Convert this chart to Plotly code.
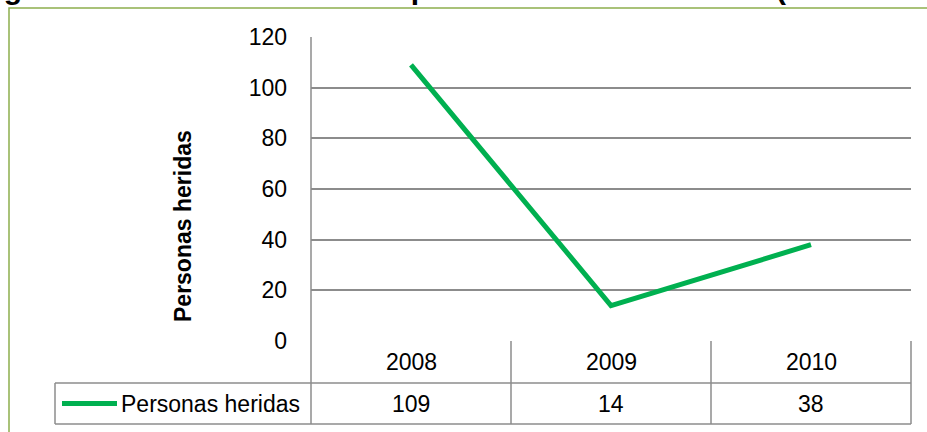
import plotly.graph_objects as go

# Data
years = ["2008", "2009", "2010"]
injured = [109, 14, 38]
series_name = "Personas heridas"
y_ticks = [0, 20, 40, 60, 80, 100, 120]
title_text = "Figura N° 7. Personas heridas por accidente de tránsito (1998 - 2010)"

# Canvas geometry (pixels)
W, H = 927, 432
L, R, T, B = 311, 16, 37, 91
PW, PH = W - L - R, H - T - B


def px_x(x):
    return (x - L) / PW


def px_y(y):
    return (H - B - y) / PH


GREEN = "#00B050"
GRID = "#8C8C8C"
FONT = "Liberation Sans, Arial, sans-serif"
FS = 23

fig = go.Figure()
fig.add_trace(go.Scatter(
    x=years, y=injured, mode="lines", name=series_name,
    line=dict(color=GREEN, width=5), showlegend=False, hoverinfo="x+y",
))

# Data table under the plot
row1 = px_y(383)
row2 = px_y(424)
legend_left = px_x(55)
shapes = []
line_style = dict(color=GRID, width=1.5)
shapes.append(dict(type="line", xref="paper", yref="paper", x0=legend_left, x1=1, y0=row1, y1=row1, line=line_style))
shapes.append(dict(type="line", xref="paper", yref="paper", x0=legend_left, x1=1, y0=row2, y1=row2, line=line_style))
shapes.append(dict(type="line", xref="paper", yref="paper", x0=legend_left, x1=legend_left, y0=row1, y1=row2, line=line_style))
shapes.append(dict(type="line", xref="paper", yref="paper", x0=0, x1=0, y0=1, y1=row2, line=line_style))
for i in range(1, len(years) + 1):
    xv = i / len(years)
    shapes.append(dict(type="line", xref="paper", yref="paper", x0=xv, x1=xv, y0=0, y1=row2, line=line_style))
# legend key line
shapes.append(dict(type="line", xref="paper", yref="paper", x0=px_x(62), x1=px_x(117),
                   y0=px_y(403.5), y1=px_y(403.5), line=dict(color=GREEN, width=5)))
# outer chart border
shapes.append(dict(type="rect", xref="paper", yref="paper", x0=px_x(9), x1=px_x(W + 40),
                   y0=px_y(H + 40), y1=px_y(8), line=dict(color="#8DAF4E", width=1.5),
                   fillcolor="rgba(0,0,0,0)", layer="below"))

annotations = []
for i, (yr, v) in enumerate(zip(years, injured)):
    annotations.append(dict(x=i, xref="x", y=px_y(362), yref="paper", text=yr, showarrow=False,
                            font=dict(size=FS, color="black", family=FONT), xanchor="center", yanchor="middle"))
    annotations.append(dict(x=i, xref="x", y=px_y(403.5), yref="paper", text=str(v), showarrow=False,
                            font=dict(size=FS, color="black", family=FONT), xanchor="center", yanchor="middle"))
annotations.append(dict(x=px_x(119), xref="paper", y=px_y(403.5), yref="paper", text=series_name,
                        showarrow=False, xanchor="left", yanchor="middle",
                        font=dict(size=FS, color="black", family=FONT)))
# y-axis title
annotations.append(dict(x=px_x(183), xref="paper", y=px_y(226), yref="paper", text="<b>Personas heridas</b>",
                        showarrow=False, textangle=-90, xanchor="center", yanchor="middle",
                        font=dict(size=FS, color="black", family=FONT)))
# figure caption running off the top edge
annotations.append(dict(x=px_x(-25), xref="paper", y=px_y(7), yref="paper", text="<b>" + title_text + "</b>",
                        showarrow=False, xanchor="left", yanchor="bottom",
                        font=dict(size=30, color="black", family=FONT)))

fig.update_layout(
    width=W, height=H,
    margin=dict(l=L, r=R, t=T, b=B, pad=0),
    paper_bgcolor="white", plot_bgcolor="white",
    font=dict(family=FONT, color="black", size=FS),
    xaxis=dict(type="category", range=[-0.5, 2.5], showticklabels=False, showgrid=False,
               zeroline=False, showline=False, ticks="", fixedrange=True),
    yaxis=dict(range=[0, 120], tickvals=y_ticks, ticktext=[str(t) for t in y_ticks],
               showgrid=True, gridcolor=GRID, gridwidth=1.5, zeroline=False, showline=False,
               ticks="", ticklabelstandoff=23, tickfont=dict(size=FS, color="black", family=FONT)),
    shapes=shapes, annotations=annotations, showlegend=False,
)

fig.write_html("out.html")
